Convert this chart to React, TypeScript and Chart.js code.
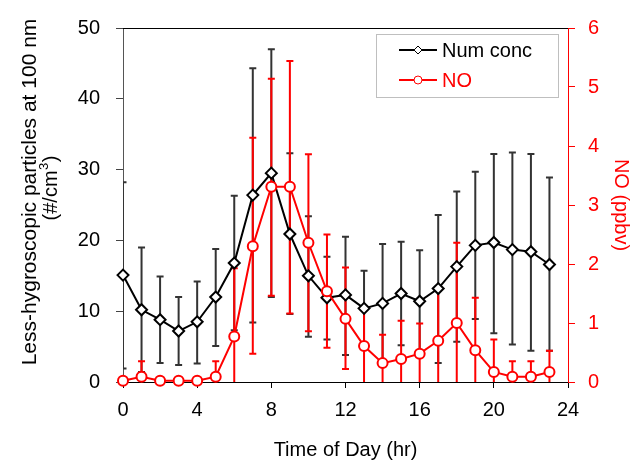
import React, { useEffect, useRef } from 'react';
import { Chart, registerables } from 'chart.js';

Chart.register(...registerables);

const hours = [0, 1, 2, 3, 4, 5, 6, 7, 8, 9, 10, 11, 12, 13, 14, 15, 16, 17, 18, 19, 20, 21, 22, 23];

const numConc = [15.1, 10.2, 8.8, 7.2, 8.5, 12.0, 16.8, 26.4, 29.5, 20.9, 15.0, 11.9, 12.3, 10.4, 11.1, 12.5, 11.4, 13.2, 16.3, 19.3, 19.7, 18.7, 18.4, 16.6];
const numHigh = [28.2, 19.0, 14.9, 12.0, 14.2, 18.8, 26.3, 44.3, 47.0, 32.3, 23.4, 17.7, 20.5, 15.7, 19.5, 19.8, 18.6, 23.6, 26.9, 29.7, 32.2, 32.4, 32.2, 28.9];
const numLow = [1.9, 1.4, 2.7, 2.4, 2.6, 5.1, 7.3, 8.4, 12.0, 9.6, 6.4, 6.0, 3.8, 5.1, 2.7, 5.2, 4.2, 2.7, 5.7, 8.9, 6.9, 5.3, 4.4, 4.4];

const noConc = [0.02, 0.09, 0.02, 0.02, 0.02, 0.09, 0.77, 2.30, 3.31, 3.31, 2.36, 1.54, 1.07, 0.61, 0.32, 0.39, 0.48, 0.70, 1.00, 0.54, 0.17, 0.09, 0.09, 0.17];
const noHigh = [0.02, 0.35, 0.02, 0.02, 0.02, 0.35, 1.93, 4.14, 5.14, 5.44, 3.86, 2.50, 1.94, 1.28, 0.80, 1.04, 0.99, 1.57, 2.36, 1.43, 0.72, 0.35, 0.35, 0.53];
const noLow = [0.02, -0.17, 0.02, 0.02, 0.02, -0.17, -0.39, 0.48, 1.46, 1.16, 0.86, 0.58, 0.22, -0.06, -0.16, -0.26, -0.03, -0.17, -0.36, -0.35, -0.38, -0.17, -0.17, -0.19];

const xTicks = [0, 4, 8, 12, 16, 20, 24];
const leftTicks = [0, 10, 20, 30, 40, 50];
const rightTicks = [0, 1, 2, 3, 4, 5, 6];

const leftTitleLine1 = 'Less-hygroscopic particles at 100 nm';
const leftTitleUnitStart = '(#/cm';
const leftTitleUnitSup = '3';
const leftTitleUnitEnd = ')';

const FONT = 'Arial, "Liberation Sans", sans-serif';

const errorBarPlugin = {
  id: 'errorBars',
  beforeDatasetsDraw(chart: any) {
    const { ctx, chartArea, scales } = chart;
    ctx.save();
    ctx.beginPath();
    ctx.rect(chartArea.left, chartArea.top - 1, chartArea.right - chartArea.left, chartArea.bottom - chartArea.top + 1);
    ctx.clip();
    const draw = (low: number[], high: number[], axis: string, color: string) => {
      ctx.strokeStyle = color;
      ctx.lineWidth = 2;
      hours.forEach((h, i) => {
        if (high[i] - low[i] <= 0.001) return;
        const x = scales.x.getPixelForValue(h);
        const y1 = scales[axis].getPixelForValue(low[i]);
        const y2 = scales[axis].getPixelForValue(high[i]);
        ctx.beginPath();
        ctx.moveTo(x, y1);
        ctx.lineTo(x, y2);
        ctx.moveTo(x - 3.5, y1);
        ctx.lineTo(x + 3.5, y1);
        ctx.moveTo(x - 3.5, y2);
        ctx.lineTo(x + 3.5, y2);
        ctx.stroke();
      });
    };
    draw(numLow, numHigh, 'y', '#333333');
    draw(noLow, noHigh, 'y1', '#ff0000');
    ctx.restore();
  },
  afterDraw(chart: any) {
    const { ctx, chartArea } = chart;
    ctx.save();
    // top border
    ctx.strokeStyle = '#000';
    ctx.lineWidth = 1;
    ctx.beginPath();
    ctx.moveTo(chartArea.left, chartArea.top + 0.5);
    ctx.lineTo(chartArea.right, chartArea.top + 0.5);
    ctx.stroke();

    // left axis title (two lines, rotated)
    ctx.save();
    ctx.translate(30, 192);
    ctx.rotate(-Math.PI / 2);
    ctx.fillStyle = '#000';
    ctx.textBaseline = 'middle';
    ctx.textAlign = 'center';
    ctx.font = '21px ' + FONT;
    ctx.fillText(leftTitleLine1, 0, 0);
    ctx.textAlign = 'left';
    const mainFont = '20px ' + FONT;
    const supFont = '13px ' + FONT;
    ctx.font = mainFont;
    const w1 = ctx.measureText(leftTitleUnitStart).width;
    const w3 = ctx.measureText(leftTitleUnitEnd).width;
    ctx.font = supFont;
    const w2 = ctx.measureText(leftTitleUnitSup).width + 1;
    const total = w1 + w2 + w3;
    let x0 = 4 - total / 2;
    ctx.font = mainFont;
    ctx.fillText(leftTitleUnitStart, x0, 21);
    x0 += w1;
    ctx.font = supFont;
    ctx.fillText(leftTitleUnitSup, x0 + 0.5, 14);
    x0 += w2;
    ctx.font = mainFont;
    ctx.fillText(leftTitleUnitEnd, x0, 21);
    ctx.restore();

    // legend
    ctx.strokeStyle = '#bfbfbf';
    ctx.lineWidth = 1;
    ctx.strokeRect(376.5, 34.5, 182, 63);
    ctx.font = '20px ' + FONT;
    ctx.textBaseline = 'middle';
    ctx.textAlign = 'left';
    // Num conc
    ctx.strokeStyle = '#000';
    ctx.lineWidth = 2;
    ctx.beginPath();
    ctx.moveTo(399, 50);
    ctx.lineTo(437, 50);
    ctx.stroke();
    ctx.fillStyle = '#fff';
    ctx.lineWidth = 1;
    ctx.beginPath();
    ctx.moveTo(418, 46);
    ctx.lineTo(422, 50);
    ctx.lineTo(418, 54);
    ctx.lineTo(414, 50);
    ctx.closePath();
    ctx.fill();
    ctx.stroke();
    ctx.fillStyle = '#000';
    ctx.fillText('Num conc', 442, 51);
    // NO
    ctx.strokeStyle = '#ff0000';
    ctx.lineWidth = 2;
    ctx.beginPath();
    ctx.moveTo(399, 80);
    ctx.lineTo(437, 80);
    ctx.stroke();
    ctx.fillStyle = '#fff';
    ctx.lineWidth = 1;
    ctx.beginPath();
    ctx.arc(418, 80, 4, 0, Math.PI * 2);
    ctx.fill();
    ctx.stroke();
    ctx.fillStyle = '#ff0000';
    ctx.fillText('NO', 442, 81);
    ctx.restore();
  },
};

export default function App() {
  const canvasRef = useRef<HTMLCanvasElement | null>(null);

  useEffect(() => {
    const canvas = canvasRef.current;
    if (!canvas) return;
    Chart.defaults.font.family = FONT;
    const chart = new Chart(canvas, {
      type: 'line',
      data: {
        datasets: [
          {
            label: 'Num conc',
            data: hours.map((h, i) => ({ x: h, y: numConc[i] })),
            yAxisID: 'y',
            borderColor: '#000000',
            backgroundColor: '#ffffff',
            borderWidth: 2,
            pointStyle: 'rectRot',
            pointRadius: 5.5,
            pointBorderWidth: 2,
            pointBackgroundColor: '#ffffff',
            pointBorderColor: '#000000',
            order: 1,
            clip: false,
          },
          {
            label: 'NO',
            data: hours.map((h, i) => ({ x: h, y: noConc[i] })),
            yAxisID: 'y1',
            borderColor: '#ff0000',
            backgroundColor: '#ffffff',
            borderWidth: 2,
            pointStyle: 'circle',
            pointRadius: 5,
            pointBorderWidth: 2,
            pointBackgroundColor: '#ffffff',
            pointBorderColor: '#ff0000',
            order: 0,
            clip: false,
          },
        ] as any,
      },
      options: {
        animation: false,
        responsive: false,
        maintainAspectRatio: false,
        layout: { padding: { top: 21, left: 0, right: 0, bottom: 0 } },
        plugins: {
          legend: { display: false },
          tooltip: { enabled: false },
        },
        scales: {
          x: {
            type: 'linear',
            min: 0,
            max: 24,
            afterBuildTicks: (s: any) => { s.ticks = xTicks.map((v) => ({ value: v })); },
            afterFit: (s: any) => { s.height = 80; },
            ticks: { font: { size: 20 }, color: '#000', padding: 10, maxRotation: 0 },
            grid: { display: true, drawOnChartArea: false, drawTicks: true, tickLength: 6, color: '#000' },
            border: { display: true, color: '#000', width: 1 },
            title: { display: true, text: 'Time of Day (hr)', font: { size: 20 }, color: '#000', padding: { top: 0, bottom: 0 } },
          },
          y: {
            type: 'linear',
            position: 'left',
            min: 0,
            max: 50,
            afterBuildTicks: (s: any) => { s.ticks = leftTicks.map((v) => ({ value: v })); },
            afterFit: (s: any) => { s.width = 123; },
            ticks: { font: { size: 20 }, color: '#000', padding: 16 },
            grid: { display: true, drawOnChartArea: false, drawTicks: true, tickLength: 7, color: '#444' },
            border: { display: true, color: '#555', width: 1 },
            title: { display: false },
          },
          y1: {
            type: 'linear',
            position: 'right',
            min: 0,
            max: 6,
            afterBuildTicks: (s: any) => { s.ticks = rightTicks.map((v) => ({ value: v })); },
            afterFit: (s: any) => { s.width = 65; },
            ticks: { font: { size: 20 }, color: '#ff0000', padding: 13 },
            grid: { display: true, drawOnChartArea: false, drawTicks: true, tickLength: 7, color: '#ff0000' },
            border: { display: true, color: '#ff0000', width: 1 },
            title: { display: true, text: 'NO (ppbv)', font: { size: 20 }, color: '#ff0000', padding: { top: 0, bottom: 0 } },
          },
        },
      } as any,
      plugins: [errorBarPlugin],
    });
    return () => chart.destroy();
  }, []);

  return (
    <div style={{ position: 'absolute', left: 0, top: 0, width: 633, height: 462 }}>
      <canvas ref={canvasRef} width={633} height={462} style={{ display: 'block', width: 633, height: 462 }} />
    </div>
  );
}
